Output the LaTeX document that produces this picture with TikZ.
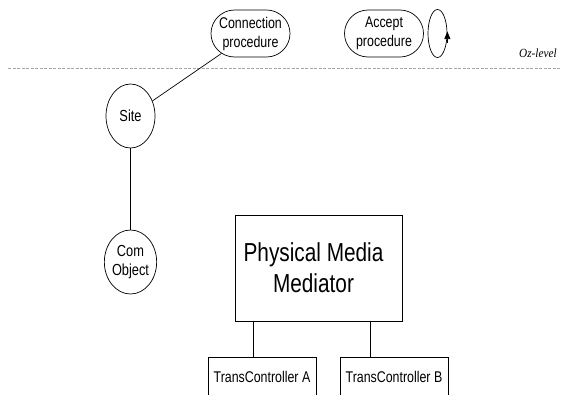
\documentclass[tikz,border=0pt]{standalone}
\usepackage{fontspec}
\setmainfont[FakeStretch=0.8]{Liberation Sans}
\newfontfamily\ozfont[FakeStretch=0.9]{Liberation Serif}
\usetikzlibrary{shapes.geometric,shapes.misc,arrows.meta,positioning}

\tikzstyle{proc}=[draw,rounded rectangle,minimum width=81pt,minimum height=47pt,inner sep=1pt,align=center,font=\fontsize{15.5}{19}\selectfont]
\tikzstyle{obj}=[draw,ellipse,minimum width=49pt,minimum height=64pt,inner sep=0pt,align=center,font=\fontsize{16}{19}\selectfont]
\tikzstyle{ctrl}=[draw,rectangle,minimum width=108pt,minimum height=40pt,inner sep=1pt,font=\fontsize{15.5}{18}\selectfont]
\newcommand{\link}[2]{\draw (#1) -- (#2);}

\begin{document}
\begin{tikzpicture}[x=1pt,y=-1pt,line width=0.7pt]
    \useasboundingbox (0,0) rectangle (562,394);
    \clip (0,0) rectangle (562,394);
    % procedures above the level line
    \node[proc] (conn) at (250.5,33.5) {Connection\\procedure};
    \node[proc] (accept) at (384,33.5) {Accept\\procedure};
    \node[draw,ellipse,minimum width=19pt,minimum height=48pt,inner sep=0pt] (loop) at (437.5,33.5) {};
    \draw[-{Triangle[length=7.5pt,width=6pt]}] ([yshift=-9pt]loop.east) -- ([yshift=2pt]loop.east);

    % level separator
    \draw[gray!70,line width=0.5pt,dash pattern=on 3pt off 1.5pt] (8,68) -- (562,68);
    \node[anchor=base east,inner sep=0pt,font=\ozfont\itshape\fontsize{12.5}{14}\selectfont] (oz) at (557,57) {Oz-level};

    % site and its object
    \node[obj] (site) at (130.5,116) {Site};
    \node[obj] (com) at (130.5,262) {Com\\Object};
    \link{site}{conn}
    \link{site}{com}

    % mediator and controllers
    \node[draw,rectangle,minimum width=167pt,minimum height=106pt,align=center,font=\fontsize{26}{31}\selectfont] (pmm) at (318.5,268) {\hspace*{-10pt}Physical Media\\\hspace*{-10pt}Mediator};
    \node[ctrl] (ta) at (262,377) {TransController A};
    \node[ctrl] (tb) at (394,377) {TransController B};
    \draw (pmm.south -| 253,0) -- (ta.north -| 253,0);
    \draw (pmm.south -| 370,0) -- (tb.north -| 370,0);
\end{tikzpicture}
\end{document}
